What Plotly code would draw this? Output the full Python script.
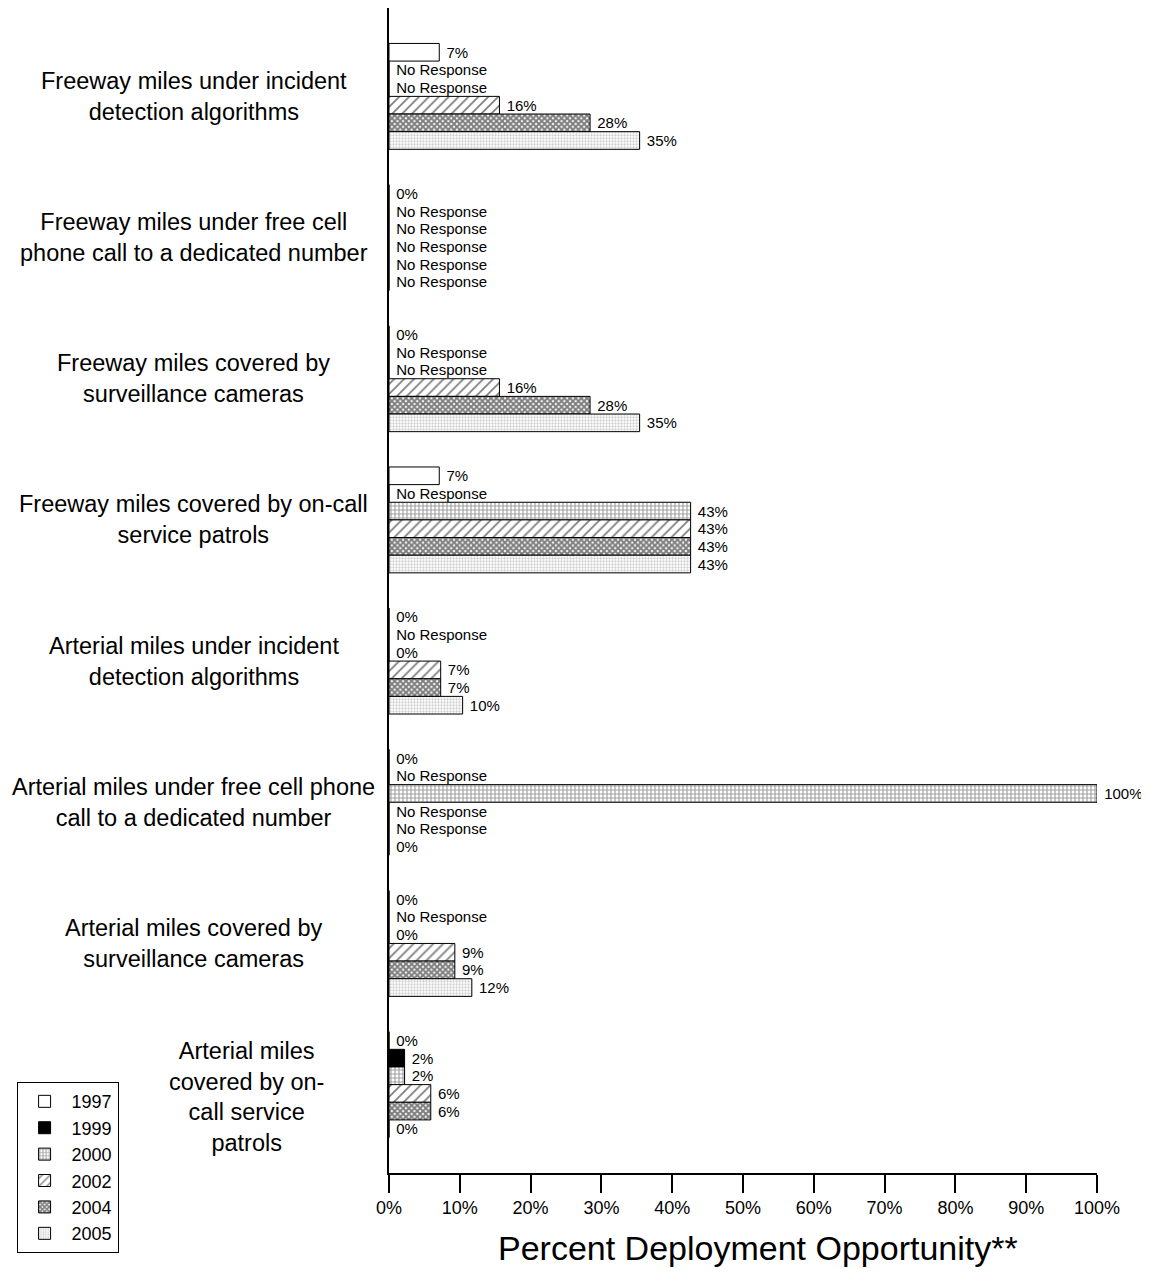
import plotly.graph_objects as go

categories = [
    "Freeway miles under incident detection algorithms",
    "Freeway miles under free cell phone call to a dedicated number",
    "Freeway miles covered by surveillance cameras",
    "Freeway miles covered by on-call service patrols",
    "Arterial miles under incident detection algorithms",
    "Arterial miles under free cell phone call to a dedicated number",
    "Arterial miles covered by surveillance cameras",
    "Arterial miles covered by on-call service patrols",
]
category_labels = [
    "Freeway miles under incident<br>detection algorithms",
    "Freeway miles under free cell<br>phone call to a dedicated number",
    "Freeway miles covered by<br>surveillance cameras",
    "Freeway miles covered by on-call<br>service patrols",
    "Arterial miles under incident<br>detection algorithms",
    "Arterial miles under free cell phone<br>call to a dedicated number",
    "Arterial miles covered by<br>surveillance cameras",
    "Arterial miles<br>covered by on-<br>call service<br>patrols",
]
years = ["1997", "1999", "2000", "2002", "2004", "2005"]

# None = "No Response"
v1997 = [7.1, 0, 0, 7.1, 0, 0, 0, 0]
v1999 = [None, None, None, None, None, None, None, 2.2]
v2000 = [None, None, None, 42.6, 0, 100, 0, 2.2]
v2002 = [15.6, None, 15.6, 42.6, 7.3, None, 9.3, 5.9]
v2004 = [28.4, None, 28.4, 42.6, 7.3, None, 9.3, 5.9]
v2005 = [35.4, None, 35.4, 42.6, 10.4, 0, 11.7, 0]
series = [v1997, v1999, v2000, v2002, v2004, v2005]

styles = {
    "1997": dict(color="white"),
    "1999": dict(color="black"),
    "2000": dict(color="white", pattern=dict(shape="+", fgcolor="#444444", bgcolor="white", size=4, solidity=0.5)),
    "2002": dict(color="white", pattern=dict(shape="/", fgcolor="black", bgcolor="white", size=7, solidity=0.25)),
    "2004": dict(color="white", pattern=dict(shape="x", fgcolor="black", bgcolor="white", size=4, solidity=0.75)),
    "2005": dict(color="white", pattern=dict(shape=".", fgcolor="#a0a0a0", bgcolor="white", size=3, solidity=0.45)),
}

fig = go.Figure()
for yr, vals in zip(years, series):
    xs = [0 if v is None else v for v in vals]
    texts = ["\u00a0No Response" if v is None else f"\u00a0{v:.0f}%" for v in vals]
    st = styles[yr]
    marker = dict(color=st["color"], line=dict(color="black", width=1))
    if "pattern" in st:
        marker["pattern"] = st["pattern"]
    fig.add_trace(go.Bar(
        name=yr, y=categories, x=xs, orientation="h",
        text=texts, textposition="outside", cliponaxis=False,
        constraintext="none",
        textfont=dict(family="Arial, Liberation Sans", size=15, color="black"),
        marker=marker,
    ))

label_x = [-0.2757] * 7 + [-0.2007]
label_shift = [0] * 7 + [-12]
for cat, lab, lx, sh in zip(categories, category_labels, label_x, label_shift):
    fig.add_annotation(
        x=lx, xref="paper", y=cat, yref="y", text=lab, showarrow=False,
        xanchor="center", yanchor="middle", align="center", yshift=sh,
        font=dict(family="Arial, Liberation Sans", size=23.5, color="black"),
    )

fig.add_annotation(
    x=0.521, xref="paper", y=-0.0644, yref="paper", text="Percent Deployment Opportunity**",
    showarrow=False, xanchor="center", yanchor="middle",
    font=dict(family="Arial, Liberation Sans", size=34, color="black"),
)

fig.update_layout(
    width=1141, height=1264,
    margin=dict(l=381, r=52, t=0, b=99),
    paper_bgcolor="white", plot_bgcolor="white",
    barmode="group", bargap=0.25, bargroupgap=0,
    font=dict(family="Arial, Liberation Sans", color="black"),
    showlegend=True,
    legend=dict(
        x=-0.526, y=0.078, xanchor="left", yanchor="top",
        traceorder="normal", bordercolor="black", borderwidth=1,
        bgcolor="white", font=dict(size=18, family="Arial, Liberation Sans"),
        itemwidth=44,
    ),
    xaxis=dict(
        range=[0, 100], dtick=10, ticksuffix="%", ticks="outside", ticklen=18,
        tickcolor="black", tickwidth=1.5, showline=True, linecolor="black",
        linewidth=1.5, showgrid=False, zeroline=False,
        tickfont=dict(size=18, family="Arial, Liberation Sans"),
    ),
    yaxis=dict(
        type="category", categoryorder="array", categoryarray=categories,
        range=[7.626, -0.626], showticklabels=False, ticks="",
        showline=True, linecolor="black", linewidth=1.5, showgrid=False, zeroline=False,
    ),
)

fig.write_html("out.html")
